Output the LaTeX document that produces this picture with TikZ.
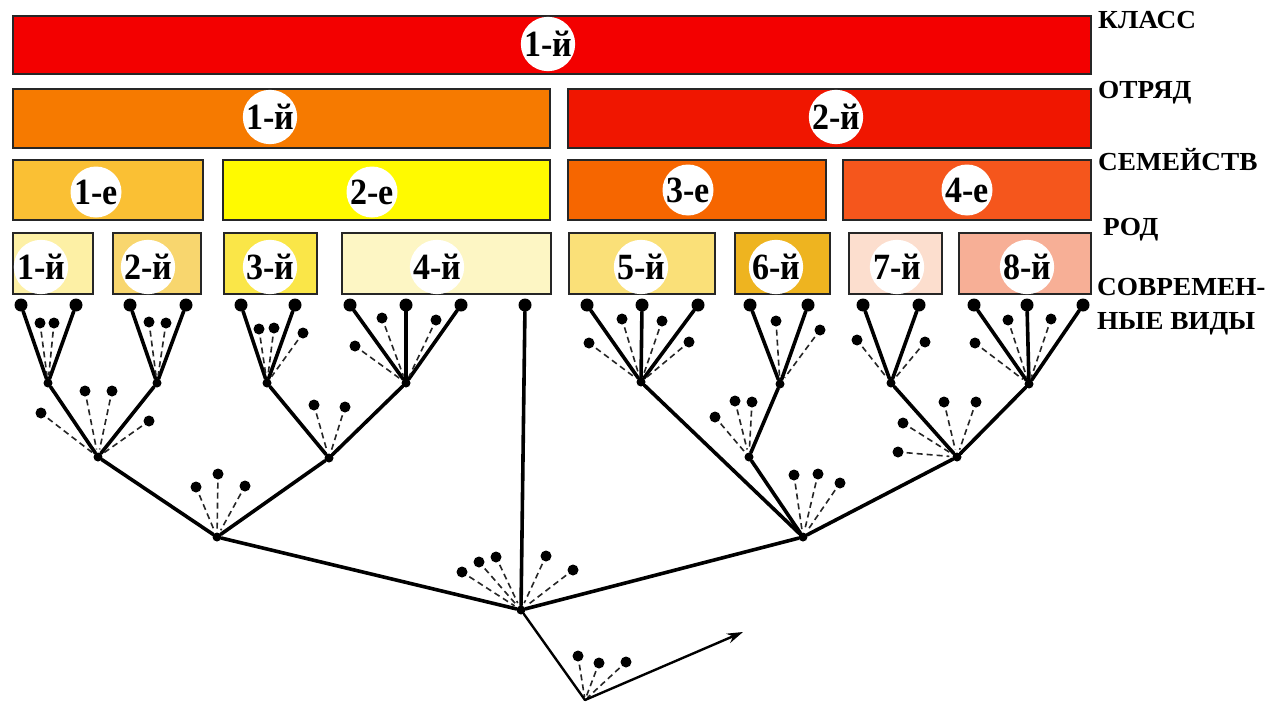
\documentclass[tikz,border=0pt]{standalone}
\usepackage{fontspec}
\setmainfont{Liberation Serif}[BoldFont={Liberation Serif Bold}]
\newfontfamily\rankfont{Liberation Serif}[BoldFont={Liberation Serif Bold},FakeStretch=1.05]
\newfontfamily\badgefont{Liberation Serif}[BoldFont={Liberation Serif Bold},FakeStretch=0.92]
\usetikzlibrary{arrows.meta}

% fills of the rank bars
\definecolor{clsred}{RGB}{243,0,0}
\definecolor{ordA}{RGB}{246,122,0}
\definecolor{ordB}{RGB}{240,22,0}
\definecolor{famA}{RGB}{250,192,52}
\definecolor{famB}{RGB}{255,250,0}
\definecolor{famC}{RGB}{246,102,0}
\definecolor{famD}{RGB}{245,86,28}
\definecolor{genA}{RGB}{253,240,165}
\definecolor{genB}{RGB}{248,214,110}
\definecolor{genC}{RGB}{250,230,72}
\definecolor{genD}{RGB}{253,246,196}
\definecolor{genE}{RGB}{250,224,120}
\definecolor{genF}{RGB}{238,180,32}
\definecolor{genG}{RGB}{252,222,206}
\definecolor{genH}{RGB}{247,175,150}

\begin{document}
\begin{tikzpicture}[x=1pt,y=-1pt,
  taxbox/.style={draw=black!85,line width=1.5pt,anchor=north west,inner sep=0pt,minimum height=#1},
  taxbox/.default=60pt,
  badge/.style={circle,fill=white,inner sep=0pt,minimum size=51pt,
    font=\badgefont\bfseries\fontsize{37}{37}\selectfont},
  smallbadge/.style={badge,minimum size=47pt},
  rank/.style={anchor=base west,inner sep=0pt,font=\rankfont\bfseries\fontsize{26}{26}\selectfont},
  fork/.style={circle,fill=black,inner sep=0pt,minimum size=9pt},
  tip/.style={circle,fill=black,inner sep=0pt,minimum size=13pt},
  fossil/.style={circle,fill=black,inner sep=0pt,minimum size=11pt},
  stem/.style={line width=3.6pt,line cap=round},
  thinstem/.style={line width=2.4pt,line cap=round},
  fosline/.style={line width=1.6pt,black!85,dash pattern=on 6pt off 4pt,shorten <=3pt,shorten >=3pt}]

\useasboundingbox[fill=white] (0,0) rectangle (1269,704);

% ---- rank bars ----
\node[taxbox=58pt,fill=clsred,minimum width=1078pt] (klass) at (12,15) {};

\node[taxbox=59pt,fill=ordA,minimum width=537pt] (ord1) at (12,88) {};
\node[taxbox=59pt,fill=ordB,minimum width=523pt] (ord2) at (567,88) {};

\node[taxbox,fill=famA,minimum width=190pt] (fam1) at (12,159) {};
\node[taxbox,fill=famB,minimum width=327pt] (fam2) at (222,159) {};
\node[taxbox,fill=famC,minimum width=258pt] (fam3) at (567,159) {};
\node[taxbox,fill=famD,minimum width=248pt] (fam4) at (842,159) {};

\node[taxbox=61pt,fill=genA,minimum width=80pt]  (gen1) at (12,232) {};
\node[taxbox=61pt,fill=genB,minimum width=88pt]  (gen2) at (112,232) {};
\node[taxbox=61pt,fill=genC,minimum width=93pt]  (gen3) at (223,232) {};
\node[taxbox=61pt,fill=genD,minimum width=209pt] (gen4) at (341,232) {};
\node[taxbox=61pt,fill=genE,minimum width=146pt] (gen5) at (568,232) {};
\node[taxbox=61pt,fill=genF,minimum width=95pt]  (gen6) at (734,232) {};
\node[taxbox=61pt,fill=genG,minimum width=93pt]  (gen7) at (848,232) {};
\node[taxbox=61pt,fill=genH,minimum width=132pt] (gen8) at (958,232) {};

% ---- numbered badges ----
\node[badge] (b-klass) at (548,44) {1-й};
\node[badge] (b-ord1) at (270,117) {1-й};
\node[badge] (b-ord2) at (836,117) {2-й};
\node[badge] (b-fam1) at (96,192) {1-е};
\node[badge] (b-fam2) at (372,192) {2-е};
\node[badge] (b-fam3) at (688,190) {3-е};
\node[badge] (b-fam4) at (967,190) {4-е};
\foreach \n/\x in {1/41,2/148,3/270,4/437,5/641,6/776,7/897,8/1027}
  \node[smallbadge] (b-gen\n) at (\x,267) {\n-й};

% ---- rank names ----
\node[rank] (r-klass) at (1098,28) {КЛАСС};
\node[rank] (r-order) at (1098,98) {ОТРЯД};
\node[rank] (r-family) at (1098,170) {СЕМЕЙСТВ};
\node[rank] (r-genus) at (1103,235) {РОД};
\node[rank] (r-spec1) at (1097,295) {СОВРЕМЕН-};
\node[rank] (r-spec2) at (1097,329) {НЫЕ ВИДЫ};

% ---- branching points ----
\foreach \n/\x/\y in {G1/48/383, G2/157/383, G3/267/383, G4/406/383,
    G5/641/382, G6/780/384, G7/891/383, G8/1029/384,
    F1/98/457, F2/329/458, F3/749/457, F4/957/457,
    O1/217/537, O2/803/537, R/521/610}
  \node[fork] (\n) at (\x,\y) {};
\coordinate (B) at (585,700);
\coordinate (future) at (743,632);

% ---- living species ----
\foreach \g/\i/\x in {G1/1/21, G1/2/76, G2/1/130, G2/2/186,
    G3/1/241, G3/2/295, G4/1/350, G4/2/406, G4/3/461,
    G5/1/587, G5/2/642, G5/3/698, G6/1/750, G6/2/808,
    G7/1/863, G7/2/919, G8/1/974, G8/2/1027, G8/3/1083, R/1/525}
{
  \node[tip] (\g-t\i) at (\x,305) {};
  \draw[stem] (\g) -- (\g-t\i);
}

% ---- extinct side branches ----
\foreach \g/\i/\x/\y in {G1/1/40/323, G1/2/54/323,
    G2/1/149/322, G2/2/166/323,
    F1/1/41/413, F1/2/85/391, F1/3/112/391, F1/4/149/421,
    G3/1/259/329, G3/2/274/328, G3/3/303/333,
    G4/1/382/318, G4/2/355/346, G4/3/436/320,
    F2/1/314/405, F2/2/345/407,
    O1/1/196/487, O1/2/218/474, O1/3/245/486,
    R/1/462/572, R/2/479/562, R/3/496/557, R/4/546/556, R/5/573/570,
    G5/1/622/319, G5/2/662/321, G5/3/589/343, G5/4/689/342,
    G6/1/776/321, G6/2/820/330,
    F3/1/715/417, F3/2/735/401, F3/3/752/402,
    O2/1/794/475, O2/2/818/474, O2/3/840/483,
    G7/1/857/340, G7/2/925/342,
    G8/1/1008/320, G8/2/1051/319, G8/3/975/343,
    F4/1/944/402, F4/2/976/402, F4/3/903/423, F4/4/898/452,
    B/1/578/656, B/2/599/663, B/3/626/662}
{
  \node[fossil] (\g-x\i) at (\x,\y) {};
  \draw[fosline] (\g-x\i) -- (\g);
}

% ---- main lineages ----
\draw[stem] (F1) -- (G1);
\draw[stem] (F1) -- (G2);
\draw[stem] (F2) -- (G3);
\draw[stem] (F2) -- (G4);
\draw[stem] (O1) -- (F1);
\draw[stem] (O1) -- (F2);
\draw[stem] (F3) -- (G6);
\draw[stem] (F4) -- (G7);
\draw[stem] (F4) -- (G8);
\draw[stem] (O2) -- (G5);
\draw[stem] (O2) -- (F3);
\draw[stem] (O2) -- (F4);
\draw[stem] (R) -- (O1);
\draw[stem] (R) -- (O2);
\draw[thinstem] (R) -- (B);
\draw[thinstem,-{Stealth[length=16pt,width=10pt]}] (B) -- (future);

\end{tikzpicture}
\end{document}
